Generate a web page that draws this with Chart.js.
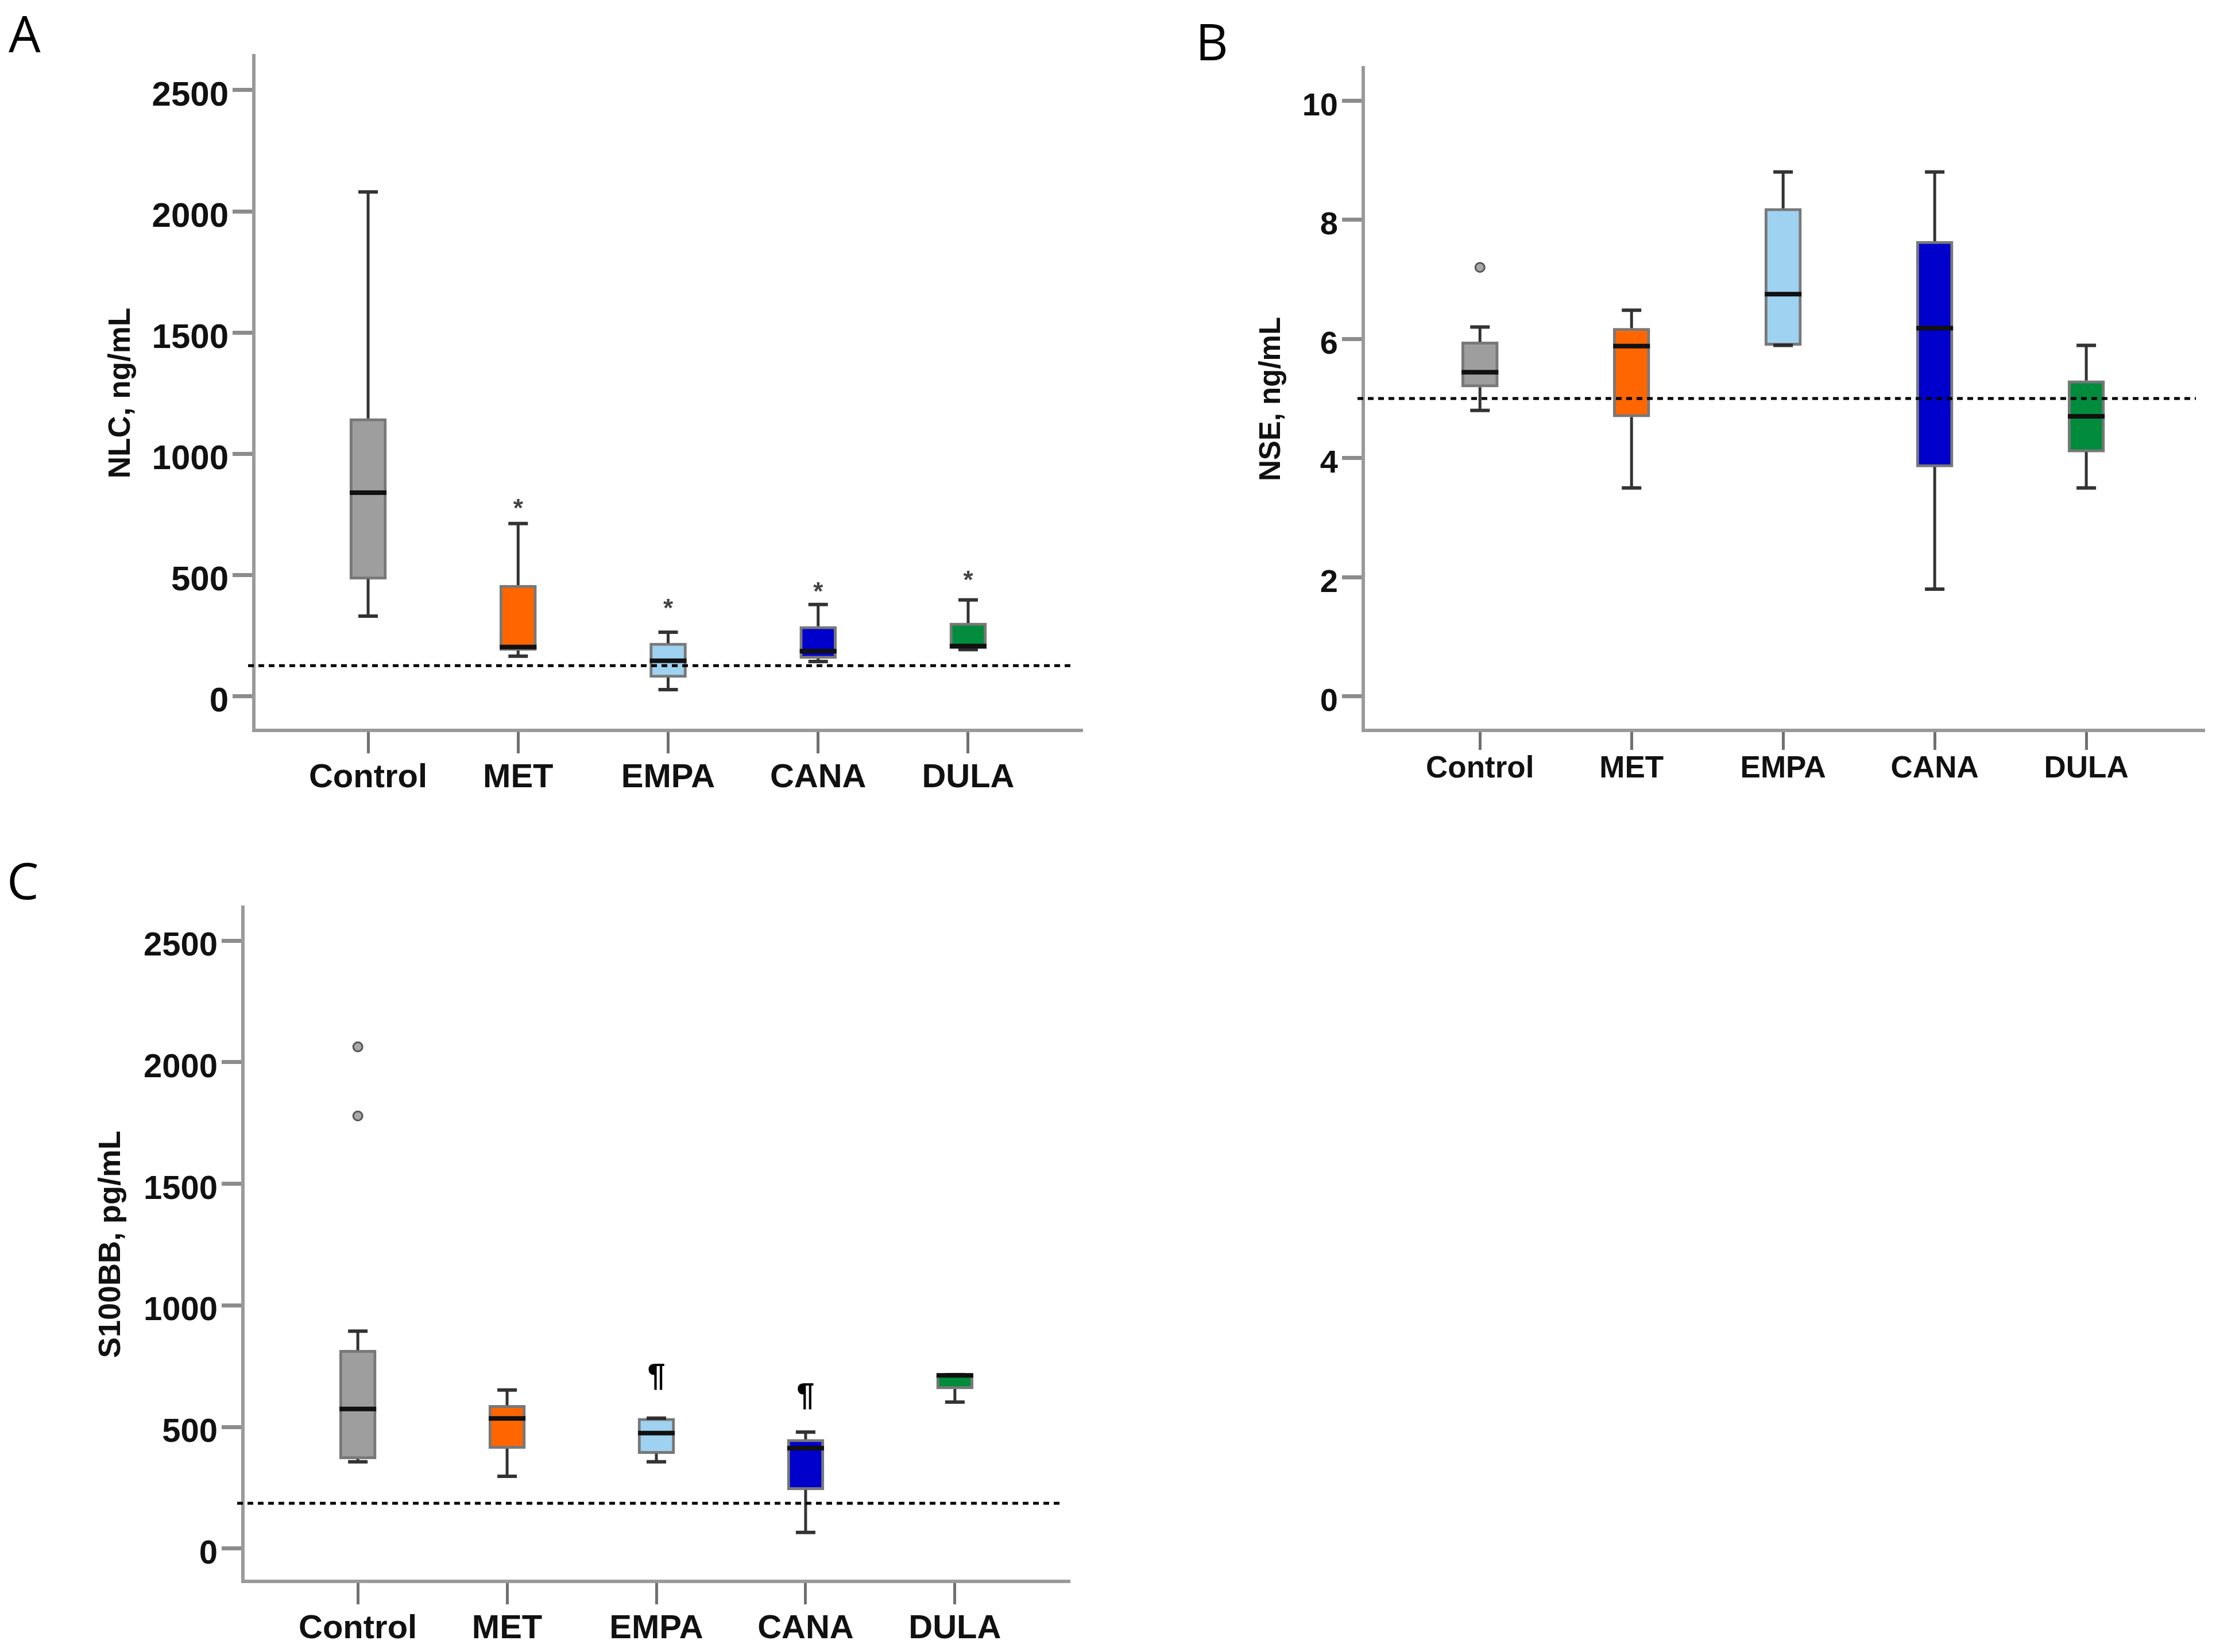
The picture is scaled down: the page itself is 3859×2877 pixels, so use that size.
<!DOCTYPE html>
<html lang="en">
<head>
<meta charset="UTF-8">
<title>NLC, NSE and S100BB by treatment group</title>
<script src="https://cdn.jsdelivr.net/npm/chart.js"></script>
<style>
  body { margin: 0; background: #fff; }
  #page { position: relative; width: 3859px; height: 2877px; overflow: hidden; background: #fff; }
  canvas { position: absolute; }
  .letter { position: absolute; font-family: "Open Sans", sans-serif; font-size: 88px; line-height: 88px; color: #000; }
</style>
</head>
<body>
<div id="page">
  <canvas id="nlc" width="1930" height="1440" style="left:0;top:0"></canvas>
  <canvas id="nse" width="1929" height="1440" style="left:1930px;top:0"></canvas>
  <canvas id="s100" width="1930" height="1437" style="left:0;top:1440px"></canvas>
  <div class="letter" style="left:15px;top:13px">A</div>
  <div class="letter" style="left:2082px;top:27px">B</div>
  <div class="letter" style="left:12px;top:1488px">C</div>
</div>
<script>
// groups on the x axis
const groups = ['Control', 'MET', 'EMPA', 'CANA', 'DULA'];
const groupColors = ['#9e9e9e', '#ff6600', '#9fd2f0', '#0000cc', '#008c3c'];

// A: NLC, ng/mL
const nlcMin    = [331, 166, 28, 144, 193];
const nlcQ1     = [483, 189, 78, 156, 196];
const nlcMedian = [840, 204, 147, 187, 208];
const nlcQ3     = [1146, 459, 220, 289, 303];
const nlcMax    = [2080, 713, 265, 379, 398];
const nlcOutliers = [[], [], [], [], []];
const nlcMarks  = ['', '*', '*', '*', '*'];
const nlcMarkAt = [null, 795, 381, 450, 497];
const nlcReference = 127;
const nlcTicks = [0, 500, 1000, 1500, 2000, 2500];

// B: NSE, ng/mL
const nseMin    = [4.8, 3.5, 5.89, 1.8, 3.5];
const nseQ1     = [5.19, 4.69, 5.89, 3.85, 4.1];
const nseMedian = [5.44, 5.88, 6.75, 6.18, 4.7];
const nseQ3     = [5.95, 6.18, 8.19, 7.64, 5.3];
const nseMax    = [6.2, 6.48, 8.8, 8.8, 5.89];
const nseOutliers = [[7.2], [], [], [], []];
const nseMarks  = ['', '', '', '', ''];
const nseMarkAt = [null, null, null, null, null];
const nseReference = 5.0;
const nseTicks = [0, 2, 4, 6, 8, 10];

// C: S100BB, pg/mL
const s100Min    = [357, 297, 357, 66, 602];
const s100Q1     = [368, 411, 390, 241, 656];
const s100Median = [574, 535, 475, 413, 712];
const s100Q3     = [816, 589, 536, 449, 715];
const s100Max    = [894, 652, 536, 479, 715];
const s100Outliers = [[2063, 1779], [], [], [], []];
const s100Marks  = ['', '', '\u00b6', '\u00b6', ''];
const s100MarkAt = [null, null, 706, 626, null];
const s100Reference = 186;
const s100Ticks = [0, 500, 1000, 1500, 2000, 2500];

const FONT = '"Liberation Sans", Arial, sans-serif';

// whiskers, medians, reference line and significance marks, all placed through the chart scales
const boxPlotPlugin = {
    id: 'boxplot',
    beforeDatasetsDraw(chart, args, opts) {
        const {ctx} = chart;
        const x = chart.scales.x, y = chart.scales.y;
        ctx.save();
        ctx.strokeStyle = '#333';
        groups.forEach((g, i) => {
            const cx = x.getPixelForValue(i);
            ctx.lineWidth = 5;
            ctx.beginPath();
            ctx.moveTo(cx, y.getPixelForValue(opts.q3[i]));
            ctx.lineTo(cx, y.getPixelForValue(opts.max[i]));
            ctx.moveTo(cx, y.getPixelForValue(opts.q1[i]));
            ctx.lineTo(cx, y.getPixelForValue(opts.min[i]));
            ctx.stroke();
            ctx.lineWidth = 6;
            ctx.beginPath();
            [opts.max[i], opts.min[i]].forEach(v => {
                const py = y.getPixelForValue(v);
                ctx.moveTo(cx - 17, py);
                ctx.lineTo(cx + 17, py);
            });
            ctx.stroke();
        });
        ctx.restore();
    },
    afterDatasetsDraw(chart, args, opts) {
        const {ctx, chartArea} = chart;
        const x = chart.scales.x, y = chart.scales.y;
        const bars = chart.getDatasetMeta(0).data;
        ctx.save();
        // medians
        ctx.strokeStyle = '#111';
        ctx.lineWidth = 8;
        groups.forEach((g, i) => {
            const half = bars[i].width / 2;
            const cx = x.getPixelForValue(i);
            const py = y.getPixelForValue(opts.median[i]);
            ctx.beginPath();
            ctx.moveTo(cx - half, py);
            ctx.lineTo(cx + half, py);
            ctx.stroke();
        });
        // dashed reference line
        const ry = y.getPixelForValue(opts.reference);
        ctx.strokeStyle = '#000';
        ctx.lineWidth = 5;
        ctx.setLineDash([10, 8]);
        ctx.beginPath();
        ctx.moveTo(chartArea.left - 10, ry);
        ctx.lineTo(chartArea.right - 15, ry);
        ctx.stroke();
        ctx.setLineDash([]);
        // marks above the boxes
        ctx.textAlign = 'center';
        ctx.textBaseline = 'alphabetic';
        groups.forEach((g, i) => {
            const mark = opts.marks[i];
            if (!mark) return;
            const size = mark === '*' ? 44 : 56;
            ctx.font = `bold ${size}px ${FONT}`;
            ctx.fillStyle = mark === '*' ? '#444' : '#000';
            const m = ctx.measureText(mark);
            const py = y.getPixelForValue(opts.markAt[i]);
            ctx.fillText(mark, x.getPixelForValue(i), py + (m.actualBoundingBoxAscent - m.actualBoundingBoxDescent) / 2);
        });
        ctx.restore();
    }
};

function drawPanel(id, p, L) {
    const outlierPoints = [];
    p.outliers.forEach((list, i) => list.forEach(v => outlierPoints.push({x: i, y: v})));

    new Chart(document.getElementById(id), {
        type: 'bar',
        data: {
            datasets: [
                {
                    data: groups.map((g, i) => ({x: i, y: [p.q1[i], p.q3[i]]})),
                    backgroundColor: groupColors,
                    borderColor: 'rgba(30,30,30,0.6)',
                    borderWidth: 5,
                    borderSkipped: false,
                    barThickness: 64
                },
                {
                    type: 'scatter',
                    data: outlierPoints,
                    pointRadius: 8,
                    pointBackgroundColor: '#a8a8a8',
                    pointBorderColor: '#555',
                    pointBorderWidth: 3
                }
            ]
        },
        options: {
            responsive: false,
            animation: false,
            devicePixelRatio: 1,
            events: [],
            layout: { padding: { top: L.top, right: L.right, left: 0, bottom: 0 } },
            plugins: {
                legend: { display: false },
                tooltip: { enabled: false },
                boxplot: p
            },
            scales: {
                x: {
                    type: 'linear',
                    min: L.xMin,
                    max: L.xMax,
                    offset: false,
                    afterBuildTicks: axis => { axis.ticks = groups.map((g, i) => ({value: i})); },
                    afterFit: axis => { axis.height = L.xHeight; },
                    border: { display: true, color: '#9a9a9a', width: 6 },
                    grid: { drawOnChartArea: false, offset: false, tickLength: L.xTick, tickColor: '#707070', tickWidth: 5 },
                    ticks: {
                        callback: v => groups[v],
                        font: { family: FONT, weight: 'bold', size: L.labelSize },
                        color: '#111',
                        padding: L.xPad,
                        maxRotation: 0,
                        autoSkip: false
                    }
                },
                y: {
                    min: p.yMin,
                    max: p.yMax,
                    afterBuildTicks: axis => { axis.ticks = p.ticks.map(v => ({value: v})); },
                    afterFit: axis => { axis.width = L.yWidth; },
                    border: { display: true, color: '#9a9a9a', width: 6 },
                    grid: { drawOnChartArea: false, tickLength: 37, tickColor: '#8c8c8c', tickWidth: 7 },
                    ticks: {
                        callback: v => String(v),
                        font: { family: FONT, weight: 'bold', size: L.tickSize },
                        color: '#111',
                        padding: 7,
                        labelOffset: 10
                    },
                    title: {
                        display: true,
                        text: p.title,
                        font: { family: FONT, weight: 'bold', size: L.titleSize },
                        color: '#111',
                        padding: { top: L.titlePad, bottom: 0 }
                    }
                }
            }
        },
        plugins: [boxPlotPlugin]
    });
}

drawPanel('nlc', {
    title: 'NLC, ng/mL', yMin: -140, yMax: 2642, ticks: nlcTicks,
    min: nlcMin, q1: nlcQ1, median: nlcMedian, q3: nlcQ3, max: nlcMax,
    outliers: nlcOutliers, marks: nlcMarks, markAt: nlcMarkAt, reference: nlcReference
}, { top: 97, right: 45, yWidth: 442, xHeight: 168, xMin: -0.762, xMax: 4.762,
     xTick: 40, xPad: 8, tickSize: 60, labelSize: 58, titleSize: 53, titlePad: 180 });

drawPanel('nse', {
    title: 'NSE, ng/mL', yMin: -0.57, yMax: 10.55, ticks: nseTicks,
    min: nseMin, q1: nseQ1, median: nseMedian, q3: nseQ3, max: nseMax,
    outliers: nseOutliers, marks: nseMarks, markAt: nseMarkAt, reference: nseReference
}, { top: 118, right: 20, yWidth: 444, xHeight: 168, xMin: -0.77, xMax: 4.78,
     xTick: 34, xPad: 2, tickSize: 56, labelSize: 53, titleSize: 51, titlePad: 254 });

drawPanel('s100', {
    title: 'S100BB, pg/mL', yMin: -135, yMax: 2637, ticks: s100Ticks,
    min: s100Min, q1: s100Q1, median: s100Median, q3: s100Q3, max: s100Max,
    outliers: s100Outliers, marks: s100Marks, markAt: s100MarkAt, reference: s100Reference
}, { top: 140, right: 67, yWidth: 423, xHeight: 123, xMin: -0.77, xMax: 4.77,
     xTick: 40, xPad: 8, tickSize: 58, labelSize: 58, titleSize: 54, titlePad: 162 });
</script>
</body>
</html>
